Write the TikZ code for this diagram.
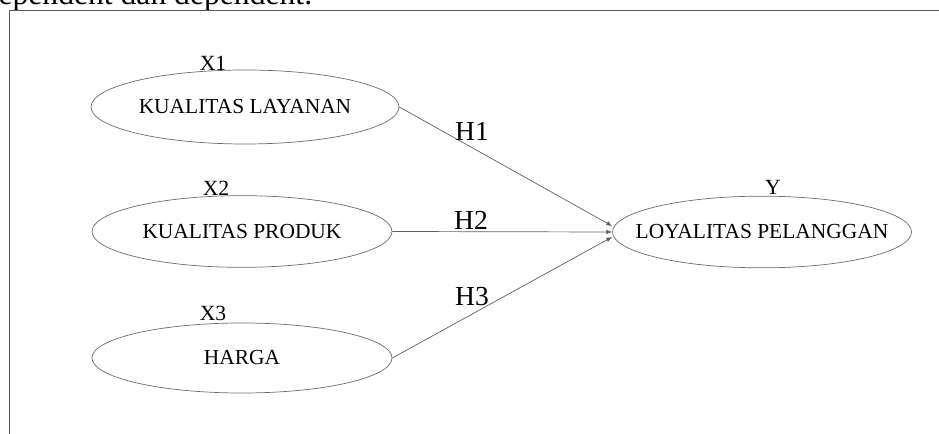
\documentclass[tikz,border=0pt]{standalone}
\usepackage{fontspec}
\setmainfont{Liberation Serif}
\usetikzlibrary{shapes.geometric, arrows.meta}
\begin{document}
\begin{tikzpicture}[
    var/.style={ellipse, draw=gray!85!black, line width=0.6pt, minimum width=9cm, minimum height=2.15cm, inner xsep=-1.2cm, inner ysep=0pt, text=black, font=\fontsize{18.3}{20}\selectfont},
    lbl/.style={text=black, font=\fontsize{18.5}{20}\selectfont},
    hyp/.style={text=black, font=\fontsize{23.5}{26}\selectfont},
    link/.style={-{Latex[length=5pt,width=4pt]}, draw=gray!75!black, line width=0.6pt}
]
    \useasboundingbox (0,0) rectangle (28.17,13.02);
    \clip (0,0) rectangle (28.17,13.02);
    \node[anchor=base west, inner sep=0pt, font=\fontsize{27}{30}\selectfont] (intro) at (-0.05,12.87) {ependent dan dependent.};
    \draw[gray!70!black, line width=0.7pt] (0.285,-0.2) -- (0.285,12.705) -- (28.5,12.705);

    % variabel
    \node[var, minimum width=9.24cm, minimum height=2.22cm] (layanan) at (7.35,9.81) {KUALITAS LAYANAN};
    \node[var] (produk) at (7.26,6.075) {KUALITAS PRODUK};
    \node[var, minimum height=2.1cm] (harga) at (7.26,2.28) {HARGA};
    \node[var, minimum width=8.97cm] (loyal) at (22.86,6.06) {LOYALITAS PELANGGAN};

    \node[lbl] (x1) at (6.39,11.13) {X1};
    \node[lbl] (x2) at (6.48,7.38) {X2};
    \node[lbl] (x3) at (6.39,3.63) {X3};
    \node[lbl] (y) at (23.19,7.41) {Y};

    % hipotesis
    \draw[link] (layanan.east) -- ([yshift=0.18cm]loyal.west);
    \draw[link] (produk.east) -- (loyal.west);
    \draw[link] (harga.east) -- ([yshift=-0.15cm]loyal.west);
    \node[hyp] (h1) at (14.16,9.09) {H1};
    \node[hyp] (h2) at (14.13,6.42) {H2};
    \node[hyp] (h3) at (14.16,4.11) {H3};
\end{tikzpicture}
\end{document}
